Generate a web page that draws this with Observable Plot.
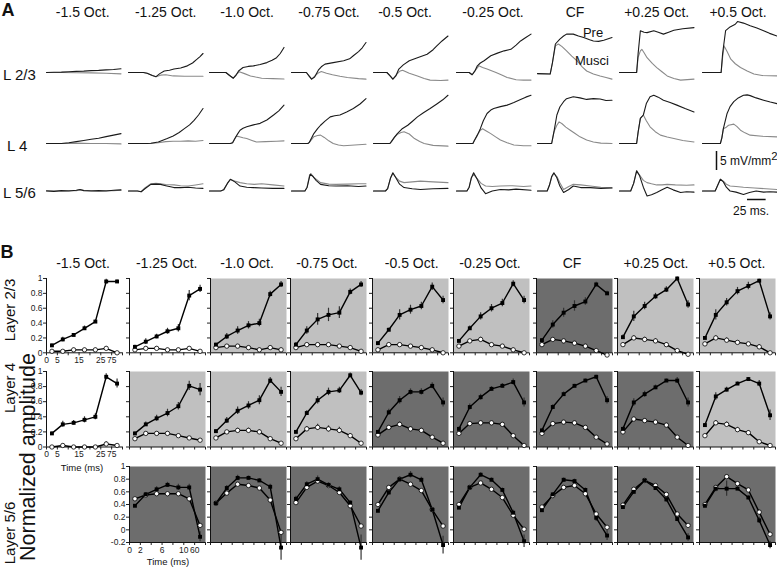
<!DOCTYPE html>
<html><head><meta charset="utf-8">
<script src="https://cdn.jsdelivr.net/npm/d3@7"></script>
<script src="https://cdn.jsdelivr.net/npm/@observablehq/plot@0.6"></script>
<style>
body{margin:0;background:#fff;font-family:"Liberation Sans",Arial,sans-serif;}
#root{position:relative;width:777px;height:568px;overflow:hidden;background:#fff;}
.t{position:absolute;white-space:nowrap;color:#111;transform:translate(-50%,-50%);line-height:1;}
.l{position:absolute;white-space:nowrap;color:#111;transform:translate(0,-50%);line-height:1;}
.r{position:absolute;white-space:nowrap;color:#111;transform:translate(-50%,-50%) rotate(-90deg);line-height:1;}
.cell{position:absolute;}
</style></head><body><div id="root"></div>
<script>
// ---------- labels ----------
const colTitles = ["-1.5 Oct.","-1.25 Oct.","-1.0 Oct.","-0.75 Oct.","-0.5 Oct.","-0.25 Oct.","CF","+0.25 Oct.","+0.5 Oct."];
const rowLabelsA = ["L 2/3","L 4","L 5/6"];
const rowLabelsB = ["Layer 2/3","Layer 4","Layer 5/6"];
const xTickLabelsUpper = ["0","5","","15","","25","75",""];
const xTickLabelsLower = ["0","2","","6","","10","60",""];
const yTicksUpper = [0,0.2,0.4,0.6,0.8,1];
const yTicksLower = [-0.2,0,0.2,0.4,0.6,0.8,1];
const scaleMv = 5, scaleMs = 25;

// ---------- panel A traces: "ms mV, ms mV, ..." ----------
const pre23 = [
"0 0,10 0.05,20 0.1,30 0.2,40 0.3,50 0.35,60 0.5,70 0.55,80 0.7,90 0.8,100 1.0",
"0 0,20 0,25 -0.2,32 -0.8,37 -1.1,42 -0.3,48 0.4,55 0.6,61 0.9,70 1.2,79 1.75,86 2.5,92 3.5,96 4.2,100 5.0",
"0 0,22 0,27 -0.8,32 -1.5,36 -0.6,39 0.4,45 1.3,52 1.6,59 1.75,68 2.1,77 2.6,84 3.2,90 3.9,95 5.0,100 6.6",
"0 0,20 0,24 -1.0,27 -1.75,31 -1.2,36 0.6,40 1.5,45 2.2,56 2.6,70 3.1,78 3.6,83 4.4,90 5.5,95 6.5,100 7.9",
"0 0,18 0,22 -0.8,26 -1.75,30 -0.9,34 0.9,40 2.0,48 3.1,59 3.9,72 4.8,80 6.0,85 7.0,92 8.3,100 9.6",
"0 0,17 0,21 -0.6,25 0.5,28 1.75,32 2.5,37 3.1,46 4.4,55 5.1,64 5.7,73 6.1,80 7.2,86 8.3,93 9.2,100 10.1",
"0 -0.3,17 -0.4,20 2.5,24 7.5,30 8.8,35 9.6,39 10.1,48 10.1,55 9.6,62 9.2,70 8.6,75 8.3,82 8.2,89 8.5,100 9.2",
"0 0,23 0,25 5,28 11,33 10.6,37 10.5,46 11,52 10.6,59 10.1,66 10.6,73 11.1,85 11.5,100 11.8",
"0 0,25 0,27 5,31 11,37 12,44 12.7,47 13.4,55 13,64 12.3,73 11.7,82 11,90 10.3,100 9.6"];
const mus23 = [
"0 0,20 0,40 -0.05,60 -0.1,80 -0.2,100 -0.35",
"0 0,20 0,25 -0.2,32 -0.8,37 -1.1,43 -0.7,50 -0.6,60 -0.9,75 -1.0,100 -1.0",
"0 0,22 0,27 -0.8,32 -1.5,36 -0.5,40 0.2,47 -0.3,55 -0.9,62 -1.2,70 -1.5,85 -1.6,100 -1.7",
"0 0,20 0,24 -1.0,27 -1.75,32 -0.8,36 -0.1,40 0.25,47 -0.2,55 -0.6,65 -1.0,75 -1.3,90 -1.6,100 -1.75",
"0 0,18 0,22 -0.8,26 -1.75,31 -0.5,35 0.3,39 0.6,48 -0.2,59 -0.9,68 -1.6,76 -2.0,90 -2.1,100 -2.0",
"0 0,17 0,21 -0.6,25 0.5,30 1.75,35 1.3,41 0.9,53 0,60 -0.6,68 -1.3,80 -1.9,90 -2.0,100 -2.0",
"0 -0.3,17 -0.4,20 2.5,24 7.0,28 7.5,33 6.8,39 5.7,46 4.3,53 3.1,60 1.5,66 0.4,75 -0.4,84 -0.9,92 -1.3,100 -1.75",
"0 0,23 0,25 4,28 5.7,30 6.1,33 5.2,37 3.9,44 2.4,50 1.3,57 0.2,64 -0.9,73 -1.6,82 -2.0,100 -1.75",
"0 0,25 0,27 4,29 7.0,33 5.5,38 3.5,44 2.3,51 1.3,60 0.4,69 -0.4,80 -0.8,100 -0.9"];
const pre4 = [
"0 0,20 0,30 0.2,40 0.5,50 0.8,60 1.1,70 1.4,80 1.8,90 2.2,100 2.6",
"0 0,25 0,30 0.05,40 0.4,52 1.3,60 2.0,68 2.9,75 3.9,82 4.9,88 6.1,94 7.5,100 9.2",
"0 0,28 0,31 0.2,34 1.3,38 2.6,41 3.5,45 4.0,50 4.4,59 4.9,68 5.3,77 6.2,86 7.5,93 8.6,100 10.1",
"0 0,22 0,24 0.3,30 2.6,35 3.9,39 4.8,45 5.9,52 7.0,58 7.3,65 7.5,74 8.3,83 9.2,92 10.4,100 11.8",
"0 0,22 0,24 0.5,28 1.6,32 2.6,38 3.8,46 4.8,52 5.8,59 7.0,67 8.1,76 9.2,85 10.4,93 11.5,100 12.7",
"0 0,22 0,24 0.8,28 2.2,32 3.9,36 6.0,41 7.9,46 8.8,50 9.2,59 9.7,68 10.1,77 10.8,86 11.6,93 12.2,100 12.7",
"0 0,19 0,22 3,26 7.5,30 9.6,35 11.0,39 11.8,48 12.3,57 12.0,66 11.6,75 11.8,84 11.7,92 11.3,100 11.4",
"0 0,23 0,25 3,28 6.6,32 7.5,36 10.5,41 12.3,46 12.7,52 12.2,59 11.4,68 10.8,77 10.1,88 9.2,100 8.3",
"0 0,24 0,26 1.5,28 3.9,33 7.9,37 9.7,42 11.0,48 12.0,55 12.7,60 12.8,64 12.6,72 12.0,82 11.4,91 10.9,100 10.5"];
const mus4 = [
"0 0,20 0,40 0.1,60 0,80 0,100 -0.1",
"0 0,30 0,40 0.2,50 0.5,60 0.6,70 0.6,80 0.7,90 0.6,100 0.8",
"0 0,28 0,31 0.2,34 1.2,36 1.9,40 1.8,45 1.5,50 1.3,57 0.8,63 0.4,75 0.5,90 0.6,100 0.7",
"0 0,22 0,24 0.3,30 1.8,35 2.1,39 2.2,44 1.6,50 0.7,56 0,63 -0.4,70 -0.6,85 -0.4,100 -0.2",
"0 0,22 0,24 0.5,28 1.6,32 2.4,37 2.9,41 3.1,48 2.5,55 1.3,62 0.5,68 0,80 -0.5,100 -0.7",
"0 0,22 0,24 0.8,28 2.2,32 3.5,35 3.9,40 3.3,46 2.6,52 1.8,59 0.9,68 0.2,77 -0.4,90 -0.6,100 -0.6",
"0 0,19 0,22 3,26 4.8,29 5.7,33 5.2,38 4.3,44 3.5,50 2.7,57 1.75,66 0.9,75 0.4,85 0.1,100 0",
"0 0,23 0,25 3,28 6.6,32 7.5,36 6.0,41 4.4,48 3.1,55 2.2,64 1.7,73 1.3,85 0.8,100 0.4",
"0 0,24 0,26 1.5,28 3.9,32 4.3,35 4.8,42 5.1,46 4.5,51 3.5,57 2.8,64 2.2,80 1.9,100 1.75"];
const pre56 = [
"0 0,10 -0.1,20 0.1,30 0,40 0.2,45 0.4,50 0.1,60 0,70 0.1,80 0,90 0.2,100 0.3",
"0 0,12 0,17 -0.2,22 0.6,30 1.75,37 1.8,43 1.75,50 1.4,61 0.9,70 0.9,80 1.0,90 0.8,100 0.7",
"0 0,15 0,19 0.3,24 2.0,28 3.1,34 2.4,41 1.3,50 1.0,59 0.9,70 0.8,85 0.7,100 0.7",
"0 0,18 0,21 1.0,25 4.4,29 3.8,33 2.8,39 1.75,50 1.4,60 1.3,75 1.4,90 1.2,100 1.3",
"0 0,16 0,19 0.6,23 3.5,26 4.8,30 3.5,35 1.8,41 0.9,52 0.6,63 0.4,80 0.6,100 0.7",
"0 0,14 0,17 1,20 3.5,23 4.8,28 3.0,33 0.8,39 -0.7,48 0,59 0.4,70 0.3,80 0.5,100 0.2",
"0 0,13 0,16 1.5,19 3.8,22 4.8,26 3.5,30 1.3,35 -0.4,42 0.4,48 1.3,58 0.9,71 0.9,85 0.7,100 0.8",
"0 0,15 0,19 2,23 5.3,27 4.0,32 1.0,37 -1.3,43 -1.0,50 -0.4,57 0.3,64 1.0,72 0.3,82 -0.4,90 -0.2,100 -0.3",
"0 0,17 0,21 1.8,24 3.1,28 2.4,32 1.0,37 0,45 -0.3,55 -0.9,63 -0.4,72 0,82 -0.3,90 -0.2,100 -0.3"];
const mus56 = [
"0 0.1,10 0,20 0,30 0.1,40 0.1,45 0.3,50 0.2,60 0.1,70 0,80 0.1,90 0.1,100 0.2",
"0 0,12 0,17 -0.2,22 0.8,30 1.9,37 2.0,43 1.9,50 1.7,61 1.6,70 1.4,80 1.3,90 1.6,100 1.9",
"0 0,15 0,19 0.3,24 2.0,28 3.0,34 2.6,41 2.2,50 1.9,60 1.75,70 1.9,85 1.6,100 1.3",
"0 0,18 0,21 1.0,24 4.0,26 4.6,30 3.6,39 2.2,50 1.8,60 1.75,75 1.8,90 1.9,100 1.9",
"0 0,16 0,19 0.6,23 3.5,26 4.6,30 3.6,35 2.6,41 2.2,52 2.4,63 2.6,80 2.4,100 2.2",
"0 0,14 0,17 1,20 3.5,23 4.4,28 3.2,33 2.0,39 1.3,48 1.2,59 1.3,75 1.4,90 1.2,100 1.3",
"0 0,13 0,16 1.5,19 3.6,22 4.6,26 3.8,30 2.2,35 0.4,42 1.2,48 1.75,58 1.6,71 1.3,85 1.0,100 0.9",
"0 0,15 0,19 2,23 5.3,27 4.2,32 2.8,37 2.2,43 1.9,50 1.6,57 1.6,64 1.75,75 1.6,90 1.5,100 1.6",
"0 0,17 0,21 1.8,24 3.1,28 2.6,32 1.8,37 1.3,45 1.2,55 1.0,70 0.8,85 0.6,100 0.4"];

// ---------- panel B normalized amplitudes (7 time windows) ----------
const bPre23 = [
[0.10,0.18,0.24,0.33,0.42,0.96,0.96],[0.08,0.15,0.22,0.29,0.33,0.77,0.86],
[0.11,0.22,0.30,0.37,0.40,0.79,0.92],[0.11,0.30,0.45,0.51,0.54,0.82,0.92],
[0.13,0.31,0.51,0.58,0.63,0.89,0.71],[0.16,0.33,0.49,0.60,0.67,0.93,0.71],
[0.17,0.38,0.54,0.63,0.69,0.92,0.80],[0.21,0.49,0.63,0.76,0.85,1.00,0.65],
[0.20,0.51,0.68,0.83,0.90,0.97,0.49]];
const bPre23Err = [
[0.02,0.03,0.02,0.03,0.02,0.03,0.02],[0.02,0.04,0.03,0.04,0.05,0.07,0.05],
[0.02,0.04,0.05,0.05,0.05,0.04,0.04],[0.03,0.05,0.08,0.09,0.08,0.04,0.04],
[0.02,0.02,0.07,0.06,0.05,0.05,0.05],[0.02,0.03,0.05,0.05,0.05,0.04,0.05],
[0.02,0.05,0.06,0.07,0.05,0.03,0.03],[0.03,0.07,0.05,0.04,0.04,0.02,0.05],
[0.02,0.07,0.05,0.05,0.05,0.02,0.05]];
const bMus23 = [
[0.02,0.02,0.04,0.04,0.04,0.06,0.00],[0.04,0.06,0.06,0.04,0.04,0.06,0.02],
[0.07,0.09,0.09,0.07,0.04,0.07,0.04],[0.07,0.11,0.11,0.11,0.09,0.07,0.02],
[0.04,0.11,0.11,0.09,0.07,0.04,0.00],[0.09,0.16,0.18,0.11,0.09,0.04,0.00],
[0.11,0.18,0.16,0.13,0.09,0.03,-0.03],[0.11,0.20,0.18,0.16,0.11,0.03,-0.02],
[0.12,0.20,0.17,0.14,0.12,0.08,0.00]];
const bMus23Err = [
[0.01,0.01,0.02,0.02,0.02,0.02,0.01],[0.01,0.02,0.02,0.02,0.02,0.02,0.01],
[0.02,0.02,0.02,0.02,0.02,0.02,0.02],[0.02,0.02,0.02,0.02,0.02,0.02,0.01],
[0.02,0.02,0.02,0.02,0.02,0.02,0.01],[0.02,0.02,0.03,0.02,0.02,0.02,0.01],
[0.02,0.02,0.02,0.02,0.02,0.02,0.01],[0.02,0.03,0.03,0.03,0.03,0.02,0.01],
[0.02,0.03,0.03,0.02,0.02,0.03,0.01]];
const bPre4 = [
[0.18,0.30,0.32,0.36,0.40,0.93,0.84],[0.18,0.30,0.38,0.45,0.54,0.81,0.76],
[0.21,0.35,0.48,0.55,0.62,0.88,0.73],[0.20,0.45,0.62,0.73,0.75,0.95,0.72],
[0.20,0.46,0.62,0.73,0.73,0.81,0.59],[0.24,0.53,0.66,0.77,0.81,0.86,0.59],
[0.22,0.53,0.70,0.81,0.88,0.93,0.62],[0.24,0.59,0.70,0.79,0.88,0.88,0.59],
[0.29,0.67,0.76,0.84,0.90,0.84,0.42]];
const bPre4Err = [
[0.02,0.04,0.03,0.04,0.04,0.04,0.06],[0.02,0.03,0.04,0.05,0.05,0.06,0.08],
[0.02,0.04,0.05,0.05,0.06,0.04,0.06],[0.02,0.03,0.05,0.05,0.04,0.03,0.04],
[0.02,0.04,0.05,0.04,0.04,0.04,0.06],[0.02,0.04,0.04,0.03,0.03,0.04,0.06],
[0.02,0.03,0.03,0.02,0.02,0.02,0.05],[0.02,0.05,0.04,0.03,0.02,0.04,0.06],
[0.02,0.05,0.03,0.02,0.02,0.04,0.07]];
const bMus4 = [
[0.00,0.02,0.00,0.00,0.00,0.04,0.02],[0.11,0.18,0.18,0.18,0.15,0.12,0.09],
[0.12,0.20,0.22,0.22,0.20,0.11,0.05],[0.11,0.24,0.26,0.24,0.22,0.15,0.05],
[0.16,0.26,0.30,0.24,0.22,0.13,0.05],[0.18,0.31,0.32,0.32,0.30,0.15,0.02],
[0.18,0.31,0.33,0.32,0.26,0.13,0.04],[0.20,0.37,0.35,0.33,0.29,0.13,0.02],
[0.15,0.32,0.30,0.23,0.19,0.07,0.02]];
const bMus4Err = [
[0.01,0.02,0.01,0.01,0.01,0.03,0.01],[0.01,0.02,0.02,0.02,0.02,0.02,0.01],
[0.01,0.02,0.03,0.03,0.03,0.02,0.01],[0.02,0.03,0.04,0.04,0.04,0.03,0.01],
[0.02,0.02,0.03,0.03,0.03,0.02,0.01],[0.02,0.02,0.02,0.02,0.02,0.02,0.01],
[0.02,0.02,0.02,0.02,0.02,0.02,0.01],[0.02,0.03,0.02,0.02,0.02,0.02,0.01],
[0.02,0.03,0.03,0.03,0.03,0.02,0.01]];
const bPre56 = [null,
[0.38,0.56,0.64,0.71,0.67,0.67,-0.11],[0.42,0.66,0.82,0.82,0.78,0.68,-0.28],
[0.49,0.72,0.80,0.71,0.64,0.43,-0.28],[0.30,0.59,0.80,0.87,0.79,0.32,-0.24],
[0.35,0.67,0.87,0.79,0.63,0.27,-0.18],[0.31,0.56,0.79,0.77,0.63,0.19,-0.09],
[0.36,0.60,0.78,0.66,0.48,0.17,-0.12],[0.38,0.65,0.65,0.65,0.51,0.15,-0.24]];
const bPre56Err = [null,
[0.02,0.03,0.04,0.04,0.05,0.05,0.08],[0.02,0.04,0.04,0.03,0.03,0.04,0.2],
[0.04,0.04,0.05,0.03,0.04,0.03,0.2],[0.02,0.04,0.03,0.05,0.04,0.03,0.14],
[0.02,0.03,0.03,0.03,0.03,0.04,0.1],[0.03,0.02,0.03,0.03,0.03,0.06,0.08],
[0.03,0.03,0.03,0.03,0.04,0.04,0.06],[0.03,0.05,0.12,0.03,0.03,0.05,0.06]];
const bMus56 = [null,
[0.49,0.55,0.57,0.57,0.57,0.49,0.07],[0.42,0.58,0.72,0.70,0.66,0.47,-0.04],
[0.43,0.67,0.77,0.70,0.59,0.38,0.06],[0.40,0.67,0.80,0.72,0.62,0.32,0.06],
[0.40,0.67,0.74,0.64,0.51,0.23,0.01],[0.36,0.54,0.67,0.70,0.57,0.25,0.04],
[0.39,0.64,0.78,0.70,0.56,0.25,0.07],[0.40,0.67,0.84,0.73,0.63,0.28,-0.07]];
const bMus56Err = [null,
[0.02,0.02,0.02,0.02,0.02,0.02,0.02],[0.02,0.02,0.02,0.02,0.02,0.02,0.02],
[0.02,0.02,0.02,0.02,0.02,0.02,0.02],[0.02,0.02,0.02,0.02,0.02,0.02,0.02],
[0.02,0.02,0.02,0.02,0.02,0.02,0.02],[0.02,0.02,0.02,0.02,0.02,0.02,0.02],
[0.02,0.02,0.02,0.02,0.02,0.02,0.02],[0.02,0.02,0.03,0.02,0.02,0.02,0.02]];
// background shade per cell: w = none, l = light, d = dark
const bg23 = ["w","w","l","l","l","l","d","l","l"];
const bg4  = ["w","l","l","l","d","d","d","d","l"];
const bg56 = [null,"d","d","d","d","d","d","d","d"];

// ---------- layout / style ----------
const root = document.getElementById("root");
const FONT = '"Liberation Sans", Arial, sans-serif';
const shade = {w:null, l:"#c0c0c0", d:"#6d6d6d"};
const svgStyle = {background:"transparent", overflow:"visible", fontFamily:FONT, fontSize:"8.5px", color:"#222"};

function place(el, x, y){ el.classList.add("cell"); el.style.left = x+"px"; el.style.top = y+"px"; root.appendChild(el); }
function txt(s, x, y, size, cls="t", extra=""){ const d=document.createElement("div"); d.className=cls; d.innerHTML=s; d.style.left=x+"px"; d.style.top=y+"px"; d.style.fontSize=size+"px"; d.style.cssText+=extra; root.appendChild(d); }
function parse(s){ return s.split(",").map(p => { const [t,v] = p.trim().split(/\s+/).map(Number); return {t, v}; }); }

// Panel A
const pxPerMv = 3.8, traceW = 74.5;
const aLeft = [45.7,127.7,209.3,291,372.5,456,537.3,619.3,701.7];
const aRows = [
  {top:15, h:70, base:72, pre:pre23, mus:mus23},
  {top:88, h:62, base:143, pre:pre4, mus:mus4},
  {top:163, h:36, base:190.5, pre:pre56, mus:mus56}];
aRows.forEach(r => {
  const yDom = [(r.base-(r.top+r.h))/pxPerMv, (r.base-r.top)/pxPerMv];
  for (let c=0;c<9;c++){
    const svg = Plot.plot({width:traceW, height:r.h, margin:0,
      x:{domain:[0,100], axis:null}, y:{domain:yDom, axis:null}, style:svgStyle,
      marks:[
        Plot.line(parse(r.mus[c]), {x:"t", y:"v", stroke:"#8a8a8a", strokeWidth:1.1}),
        Plot.line(parse(r.pre[c]), {x:"t", y:"v", stroke:"#1a1a1a", strokeWidth:1.1})
      ]});
    place(svg, aLeft[c], r.top);
  }
});
// scale bars (same units as traces)
{
  const h = scaleMv*pxPerMv;
  const sv = Plot.plot({width:4, height:h, margin:0, x:{domain:[0,1],axis:null}, y:{domain:[0,scaleMv],axis:null}, style:svgStyle,
    marks:[Plot.ruleX([0.5],{y1:0, y2:scaleMv, stroke:"#111", strokeWidth:1.5})]});
  place(sv, 713.7, 151);
  const w = scaleMs*traceW/100;
  const sh = Plot.plot({width:w, height:4, margin:0, x:{domain:[0,scaleMs],axis:null}, y:{domain:[0,1],axis:null}, style:svgStyle,
    marks:[Plot.ruleY([0.5],{x1:0, x2:scaleMs, stroke:"#111", strokeWidth:1.5})]});
  place(sh, 747, 197);
}

// Panel B
const bLeft = [46,129,210,290,372,453,536,617,699];
const bW = 76;
const bRows = [
  {top:278, h:74.3, dom:[0,1], ticks:yTicksUpper, pre:bPre23, preE:bPre23Err, mus:bMus23, musE:bMus23Err, bg:bg23, yLab:[0], xLab:[0], xl:xTickLabelsUpper},
  {top:371, h:75.5, dom:[0,1], ticks:yTicksUpper, pre:bPre4, preE:bPre4Err, mus:bMus4, musE:bMus4Err, bg:bg4, yLab:[0], xLab:[0], xl:xTickLabelsUpper},
  {top:465.7, h:76, dom:[-0.2,1], ticks:yTicksLower, pre:bPre56, preE:bPre56Err, mus:bMus56, musE:bMus56Err, bg:bg56, yLab:[1], xLab:[1], xl:xTickLabelsLower}];
const fmtY = d => String(+d.toFixed(1));
bRows.forEach(r => {
  for (let c=0;c<9;c++){
    if (r.bg[c] == null) continue;
    const ml=26, mr=6, mt=6, mb=22;
    const P = r.pre[c].map((y,i)=>({x:i+0.5, y, e:r.preE[c][i]}));
    const M = r.mus[c].map((y,i)=>({x:i+0.5, y, e:r.musE[c][i]}));
    const showY = r.yLab.includes(c), showX = r.xLab.includes(c);
    const marks = [];
    if (shade[r.bg[c]]) marks.push(Plot.frame({fill:shade[r.bg[c]], stroke:"none"}));
    marks.push(
      Plot.ruleX([0], {stroke:"#111", strokeWidth:1}),
      Plot.ruleY([r.dom[0]], {stroke:"#111", strokeWidth:1}),
      Plot.ruleX(M, {x:"x", y1:d=>d.y-d.e, y2:d=>d.y+d.e, stroke:"#333", strokeWidth:1.2}),
      Plot.line(M, {x:"x", y:"y", stroke:"#000", strokeWidth:1.4}),
      Plot.ruleX(P, {x:"x", y1:d=>d.y-d.e, y2:d=>d.y+d.e, stroke:"#333", strokeWidth:1.2}),
      Plot.line(P, {x:"x", y:"y", stroke:"#000", strokeWidth:1.4}),
      Plot.dot(M, {x:"x", y:"y", r:2.2, fill:"#fff", stroke:"#000", strokeWidth:0.8}),
      Plot.dot(P, {x:"x", y:"y", r:2.2, symbol:"square", fill:"#000", stroke:"none"})
    );
    const svg = Plot.plot({width:bW+ml+mr, height:r.h+mt+mb, marginLeft:ml, marginRight:mr, marginTop:mt, marginBottom:mb,
      x:{domain:[0,7], ticks:[0,1,2,3,4,5,6,7], tickSize:3, tickPadding:1, tickFormat:d => showX ? r.xl[d] : "", label:null},
      y:{domain:r.dom, ticks:r.ticks, tickSize:3, tickPadding:1, tickFormat:d => showY ? fmtY(d) : "", label:null},
      style:svgStyle, marks});
    place(svg, bLeft[c]-ml, r.top-mt);
  }
});

// ---------- text ----------
txt("A", 8, 10, 18, "t", "font-weight:bold;");
txt("B", 7, 252, 18, "t", "font-weight:bold;");
const aTitleX = [82.7,165.7,247,329,405,493,575,656.7,738];
const bTitleX = [83,166.7,247,327,411.7,490,572,656,736.7];
colTitles.forEach((s,i)=>{ txt(s, aTitleX[i], 12, 14); txt(s, bTitleX[i], 262.5, 14); });
txt(rowLabelsA[0], 3, 74, 15, "l");
txt(rowLabelsA[1], 7, 145, 15, "l");
txt(rowLabelsA[2], 3, 192, 15, "l");
txt("Pre", 593, 32, 13);
txt("Musci", 592, 60, 13);
txt('5 mV/mm<span style="position:relative;top:-0.4em;font-size:0.95em">2</span>', 720, 161, 12, "l");
txt("25 ms.", 751, 211, 12);
txt(rowLabelsB[0], 9, 310, 15, "r");
txt(rowLabelsB[1], 9, 388, 15, "r");
txt(rowLabelsB[2], 9, 533, 15, "r");
txt("Normalized amplitude", 29, 457, 21.5, "r");
txt("Time (ms)", 82, 468, 9.5);
txt("Time (ms)", 168, 562, 9.5);
</script></body></html>
